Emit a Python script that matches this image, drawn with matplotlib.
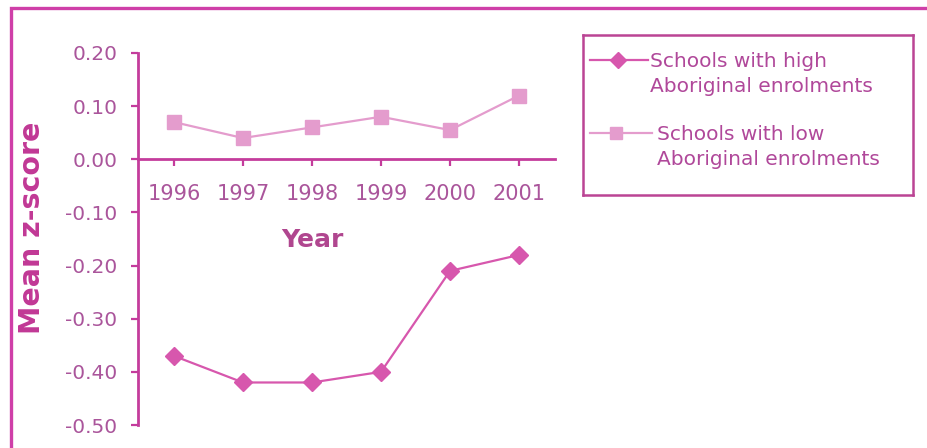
import matplotlib
matplotlib.use("Agg")
import matplotlib.pyplot as plt
from matplotlib.patches import Rectangle
from matplotlib.lines import Line2D

years = [1996, 1997, 1998, 1999, 2000, 2001]
year_labels = ["1996", "1997", "1998", "1999", "2000", "2001"]
high_enrol = [-0.37, -0.42, -0.42, -0.40, -0.21, -0.18]
low_enrol = [0.07, 0.04, 0.06, 0.08, 0.055, 0.12]
y_ticks = [0.20, 0.10, 0.00, -0.10, -0.20, -0.30, -0.40, -0.50]
y_tick_labels = ["0.20", "0.10", "0.00", "-0.10", "-0.20", "-0.30", "-0.40", "-0.50"]
legend_labels = ["Schools with high\nAboriginal enrolments",
                 "Schools with low\nAboriginal enrolments"]

W, H = 927, 448
AXIS = "#c43c9c"
TEXT = "#aa559b"
LEGTEXT = "#b0489a"
HIGH = "#d757ad"
LOW = "#e49ccd"
FRAME = "#cf3fa8"

plt.rcParams["font.family"] = ["DejaVu Sans"]

fig = plt.figure(figsize=(W / 100, H / 100), dpi=100)
fig.patch.set_facecolor("white")

# outer frame (runs off the right and bottom edges)
fig.patches.append(Rectangle((11 / W, -0.2), 1.2, 1 - 8 / H + 0.2,
                             transform=fig.transFigure, fill=False,
                             ec=FRAME, lw=2.4, clip_on=False))

def px(x0, y0, x1, y1):
    return [x0 / W, 1 - y1 / H, (x1 - x0) / W, (y1 - y0) / H]

ax = fig.add_axes(px(138, 53, 555, 425))
ax.set_facecolor("none")
ax.set_xlim(1995.48, 2001.52)
ax.set_ylim(-0.5, 0.2)

ax.plot(years, low_enrol, color=LOW, lw=1.6, marker="s", ms=10,
        mfc=LOW, mec=LOW, zorder=3)
ax.plot(years, high_enrol, color=HIGH, lw=1.6, marker="D", ms=9,
        mfc=HIGH, mec=HIGH, zorder=3)

for s in ["top", "right"]:
    ax.spines[s].set_visible(False)
ax.spines["left"].set_color(AXIS)
ax.spines["left"].set_linewidth(2.0)
ax.spines["bottom"].set_position(("data", 0))
ax.spines["bottom"].set_color(AXIS)
ax.spines["bottom"].set_linewidth(2.0)

ax.set_yticks(y_ticks)
ax.set_yticklabels(y_tick_labels)
ax.set_xticks(years)
ax.set_xticklabels(year_labels)
ax.tick_params(axis="y", direction="out", length=5, width=1.6, color=AXIS,
               labelcolor=TEXT, labelsize=14.5, pad=10)
ax.tick_params(axis="x", direction="out", length=5, width=1.6, color=AXIS,
               labelcolor=TEXT, labelsize=15, pad=13)

fig.text(32 / W, 1 - 228 / H, "Mean z-score", rotation=90, ha="center",
         va="center", fontsize=20.5, fontweight="bold", color="#c13895")
fig.text(312 / W, 1 - 240 / H, "Year", ha="center", va="center",
         fontsize=18, fontweight="bold", color="#b0468f")

# legend panel
lg = fig.add_axes(px(583, 35, 913, 195))
lg.set_xlim(583, 913)
lg.set_ylim(195, 35)
lg.set_xticks([])
lg.set_yticks([])
lg.set_facecolor("white")
for s in lg.spines.values():
    s.set_color("#bb4494")
    s.set_linewidth(1.8)

lg.add_line(Line2D([590, 648], [60, 60], color=HIGH, lw=1.6))
lg.add_line(Line2D([618], [60], color=HIGH, marker="D", ms=8, mec=HIGH, mfc=HIGH))
lg.text(650, 74, legend_labels[0], ha="left", va="center", fontsize=14.5,
        color=LEGTEXT, linespacing=1.4)
lg.add_line(Line2D([590, 652], [133, 133], color=LOW, lw=1.6))
lg.add_line(Line2D([616], [133], color=LOW, marker="s", ms=9, mec=LOW, mfc=LOW))
lg.text(657, 147, legend_labels[1], ha="left", va="center", fontsize=14.5,
        color=LEGTEXT, linespacing=1.4)

fig.savefig("out.png", dpi=100, facecolor="white")
